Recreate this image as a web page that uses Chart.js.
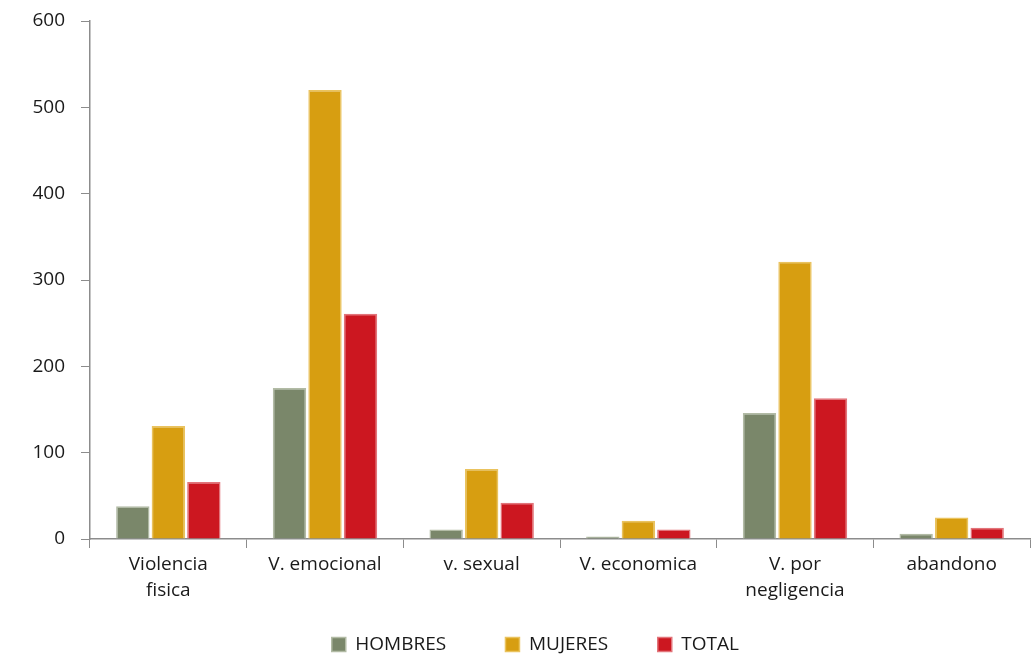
<!DOCTYPE html>
<html>
<head>
<meta charset="utf-8">
<script src="https://cdn.jsdelivr.net/npm/chart.js@4/dist/chart.umd.min.js"></script>
<style>
  html, body { margin: 0; padding: 0; background: #fff; }
  #wrap { width: 1035px; height: 654px; }
</style>
</head>
<body>
<div id="wrap"><canvas id="myChart"></canvas></div>
<script>
const categories = [["Violencia", "fisica"], "V. emocional", "v. sexual", "V. economica", ["V. por", "negligencia"], "abandono"]
const hombres = [38, 175, 11, 3, 146, 6]
const mujeres = [131, 520, 81, 21, 321, 25]
const total = [66, 261, 42, 11, 163, 13]
const yticks = [0, 100, 200, 300, 400, 500, 600]

Chart.defaults.font.family = "'Open Sans', sans-serif"
Chart.defaults.font.size = 19
Chart.defaults.color = "#1a1a1a"

// extra room after each legend entry (the legend only has one padding value)
const legendGap = ["          ", "        ", "          "]

new Chart("myChart", {
    type: "bar",
    data: {
        labels: categories,
        datasets: [{
            label: "HOMBRES",
            data: hombres,
            backgroundColor: "#7a876a",
            borderColor: "#b2bba5",
            borderWidth: 1.5,
        },
        {
            label: "MUJERES",
            data: mujeres,
            backgroundColor: "#d79e11",
            borderColor: "#eac35e",
            borderWidth: 1.5,
        },
        {
            label: "TOTAL",
            data: total,
            backgroundColor: "#cc1720",
            borderColor: "#e2747a",
            borderWidth: 1.5,
        }]
    },
    options: {
        responsive: true,
        maintainAspectRatio: false,
        animation: false,
        layout: {padding: {top: 21, right: 5, left: 0, bottom: -10}},
        datasets: {bar: {categoryPercentage: 0.68, barPercentage: 0.94}},
        plugins: {
            legend: {
                position: "bottom",
                fullSize: false,
                labels: {
                    boxWidth: 14,
                    boxHeight: 14,
                    padding: 10,
                    generateLabels: chart => {
                        const items = Chart.defaults.plugins.legend.labels.generateLabels(chart)
                        items.forEach((it, i) => { it.text = it.text + legendGap[i] })
                        return items
                    }
                }
            },
            tooltip: {enabled: false}
        },
        scales: {
            x: {
                afterFit: axis => { axis.height = 86 },
                grid: {drawOnChartArea: false, color: "#8c8c8c", tickLength: 9, offset: true},
                border: {color: "#8c8c8c", width: 1.5},
                ticks: {padding: 4, maxRotation: 0, autoSkip: false, font: {lineHeight: 1.35}}
            },
            y: {
                min: 0,
                max: 600,
                afterBuildTicks: axis => { axis.ticks = yticks.map(v => ({value: v})) },
                afterFit: axis => {
                    axis.width = 90
                    axis.paddingTop = 0
                    axis.paddingBottom = 0
                },
                grid: {drawOnChartArea: false, color: "#8c8c8c", tickLength: 9},
                border: {color: "#8c8c8c", width: 1.5},
                ticks: {padding: 16}
            }
        }
    }
})
</script>
</body>
</html>
